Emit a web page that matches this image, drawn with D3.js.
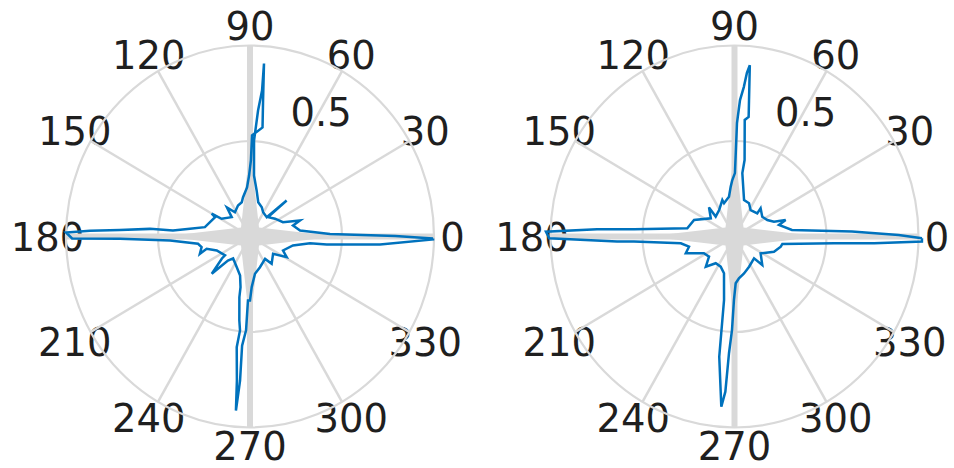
<!DOCTYPE html>
<html><head><meta charset="utf-8">
<script src="https://cdn.jsdelivr.net/npm/d3@7"></script>
<style>html,body{margin:0;padding:0;background:#fff;} svg{display:block;}</style>
</head><body>
<svg id="chart" width="954" height="468"></svg>
<script>
// ---- data ----
const angleTicks = [0, 30, 60, 90, 120, 150, 180, 210, 240, 270, 300, 330];
const ringTicks = [0.5, 1];
const ringLabels = ["0.5"];

const leftTheta = [359.4, 0.2, 1.8, 6.6, 13.9, 17.1, 22.7, 34.4, 45.9, 43.4, 48, 60.8, 67.3, 76, 81.5, 86.1, 87.5, 86.2, 85.1, 85.2, 84.3, 83.2, 88.8, 89.3, 90.9, 93.6, 100.6, 104, 111.9, 122.8, 129.4, 134.4, 148.9, 150.2, 152, 161, 168.7, 173, 175.7, 175.8, 177.2, 178, 178.8, 180.6, 181, 182.8, 187.7, 192, 198.4, 195.3, 202, 216, 217, 223.2, 226.4, 231.4, 245.9, 255.2, 259, 259.7, 262.5, 263.7, 262.9, 264.6, 265.2, 265.9, 265.7, 267.5, 268.1, 270, 272, 277.9, 288.6, 305, 309.5, 324, 331.5, 337.8, 348.6, 353.9, 354.3, 356.6, 359.1, 359.4];
const leftRho = [0.995, 0.79, 0.435, 0.274, 0.241, 0.284, 0.194, 0.165, 0.141, 0.274, 0.136, 0.146, 0.166, 0.185, 0.244, 0.320, 0.503, 0.661, 0.767, 0.909, 0.715, 0.575, 0.529, 0.398, 0.319, 0.257, 0.208, 0.185, 0.175, 0.151, 0.197, 0.142, 0.180, 0.240, 0.215, 0.230, 0.250, 0.329, 0.420, 0.545, 0.708, 0.870, 1.0, 0.967, 0.707, 0.435, 0.285, 0.269, 0.287, 0.244, 0.195, 0.168, 0.191, 0.285, 0.174, 0.147, 0.176, 0.211, 0.270, 0.323, 0.444, 0.495, 0.584, 0.757, 0.914, 0.756, 0.573, 0.492, 0.335, 0.335, 0.265, 0.197, 0.170, 0.143, 0.185, 0.155, 0.227, 0.194, 0.238, 0.328, 0.419, 0.708, 0.995, 0.995];

const rightTheta = [359.5, 0.5, 2.3, 6.2, 14, 17.2, 19.8, 25.8, 34.5, 46.2, 44.4, 57.7, 65.6, 74.8, 82.7, 82.2, 84.8, 83, 84.7, 85.5, 86.3, 87.6, 88.7, 89.1, 89.6, 92.3, 94.5, 98.2, 108.1, 109.1, 121, 134.4, 132.3, 143.6, 158.6, 170.5, 176, 177.1, 178.6, 180.5, 182.4, 182.8, 187, 192.2, 198.4, 207.9, 217.3, 225.4, 233.9, 244.6, 253.5, 260.3, 262.5, 265.4, 266.5, 267.2, 268.4, 269.5, 271.5, 276.3, 285, 296.6, 312.9, 315.4, 328.2, 339.6, 348, 351.5, 356.2, 357.3, 358.5, 359.5];
const rightRho = [1.019, 0.892, 0.639, 0.314, 0.249, 0.291, 0.228, 0.198, 0.183, 0.205, 0.173, 0.164, 0.191, 0.198, 0.335, 0.404, 0.613, 0.631, 0.901, 0.859, 0.784, 0.715, 0.594, 0.437, 0.332, 0.296, 0.262, 0.210, 0.183, 0.202, 0.162, 0.146, 0.206, 0.160, 0.236, 0.260, 0.547, 0.748, 1.025, 1.007, 0.639, 0.547, 0.294, 0.253, 0.279, 0.188, 0.174, 0.222, 0.173, 0.175, 0.201, 0.337, 0.635, 0.894, 0.814, 0.612, 0.490, 0.332, 0.245, 0.220, 0.200, 0.177, 0.156, 0.212, 0.167, 0.229, 0.257, 0.263, 0.542, 0.760, 1.019, 1.019];

// ---- layout ----
const cy = 236.5;
const panels = [
  {cx: 250, theta: leftTheta, rho: leftRho},
  {cx: 734.5, theta: rightTheta, rho: rightRho}
];
const rx = d3.scaleLinear().domain([0, 1]).range([0, 184]);
const ry = d3.scaleLinear().domain([0, 1]).range([0, 191]);
const rad = d => d * Math.PI / 180;
const gridColor = "#d9d9d9";
const lineColor = "#0072BD";
const textColor = "#1f1f1f";
const fs = 38.5;

const svg = d3.select("#chart");
svg.append("rect").attr("width", 954).attr("height", 468).attr("fill", "#fff");

panels.forEach(p => {
  const g = svg.append("g").attr("transform", `translate(${p.cx},${cy})`);
  const px = (t, r) => rx(r) * Math.cos(rad(t));
  const py = (t, r) => -ry(r) * Math.sin(rad(t));

  // angle labels (under the lines)
  g.selectAll("text.ang").data(angleTicks).join("text")
    .attr("class", "ang")
    .attr("x", d => px(d, 1.1))
    .attr("y", d => py(d, 1.1) + 0.3645 * fs - (d === 270 ? 1 : 0))
    .attr("text-anchor", "middle")
    .attr("font-family", "DejaVu Sans")
    .attr("font-size", fs)
    .attr("fill", textColor)
    .text(d => d);

  // radial label
  g.selectAll("text.rl").data(ringLabels).join("text")
    .attr("class", "rl")
    .attr("x", d => px(82, +d + 0.025) + 27)
    .attr("y", d => py(82, +d + 0.025) - 11)
    .attr("text-anchor", "start")
    .attr("font-family", "DejaVu Sans")
    .attr("font-size", fs)
    .attr("fill", textColor)
    .text(d => d);

  // rings
  g.selectAll("ellipse").data(ringTicks).join("ellipse")
    .attr("rx", d => rx(d)).attr("ry", d => ry(d))
    .attr("fill", "none").attr("stroke", gridColor).attr("stroke-width", 2.2);

  // spokes (diameters)
  const spokes = angleTicks.filter(a => a < 180);
  g.selectAll("line.sp").data(spokes).join("line")
    .attr("class", "sp")
    .attr("x1", d => px(d, 1)).attr("y1", d => py(d, 1))
    .attr("x2", d => px(d + 180, 1)).attr("y2", d => py(d + 180, 1))
    .attr("stroke", gridColor)
    .attr("stroke-width", d => (d % 90 === 0) ? 6 : 2.5);

  // central overlap star
  const w = 9, L = 0.47;
  const star = [[rx(L), 0], [w, -w], [0, -ry(L)], [-w, -w], [-rx(L), 0], [-w, w], [0, ry(L)], [w, w]];
  g.append("polygon").attr("points", star.map(d => d.join(",")).join(" "))
    .attr("fill", gridColor);

  // data line
  const pts = p.theta.map((t, i) => [t, p.rho[i]]);
  const line = d3.line().x(d => px(d[0], d[1])).y(d => py(d[0], d[1]));
  g.append("path").attr("d", line(pts))
    .attr("fill", "none").attr("stroke", lineColor)
    .attr("stroke-width", 2.5).attr("stroke-linejoin", "miter");
});
</script>
</body></html>
